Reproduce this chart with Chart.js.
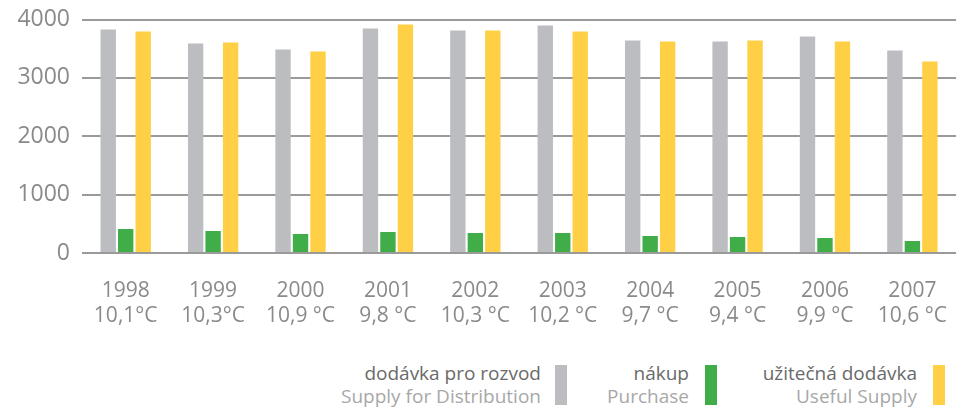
<!DOCTYPE html>
<html><head><meta charset="utf-8">
<script src="https://cdn.jsdelivr.net/npm/chart.js@4"></script>
<style>
html,body{margin:0;padding:0;background:#fff;overflow:hidden;width:958px;height:410px;}
#wrap{position:absolute;left:0;top:-4px;width:964px;height:340px;}
.leg{position:absolute;top:362px;font-family:"Open Sans",Lato,sans-serif;font-size:19px;line-height:23px;text-align:right;}
.leg .cz{color:#6a6a6a;}
.leg .en{color:#a8a8a8;}
.box{position:absolute;top:365px;width:12px;height:40px;}
</style></head>
<body>
<div id="wrap"><canvas id="c" width="964" height="340"></canvas></div>
<div class="leg" style="right:417px"><div class="cz">dodávka pro rozvod</div><div class="en">Supply for Distribution</div></div>
<div class="box" style="left:555px;background:#bcbdc0"></div>
<div class="leg" style="right:269px"><div class="cz">nákup</div><div class="en">Purchase</div></div>
<div class="box" style="left:705px;background:#41ad49"></div>
<div class="leg" style="right:41px"><div class="cz">užitečná dodávka</div><div class="en">Useful Supply</div></div>
<div class="box" style="left:933px;background:#ffd045"></div>
<script>
const years = ["1998","1999","2000","2001","2002","2003","2004","2005","2006","2007"];
const temps = ["10,1°C","10,3°C","10,9 °C","9,8 °C","10,3 °C","10,2 °C","9,7 °C","9,4 °C","9,9 °C","10,6 °C"];
const supplyForDistribution = [3829,3590,3487,3846,3812,3897,3641,3624,3709,3470];
const purchase = [410,376,325,359,342,342,290,273,256,205];
const usefulSupply = [3795,3607,3453,3915,3812,3795,3624,3641,3624,3282];
const yTicks = [0,1000,2000,3000,4000];

const labels = years.map((y,i)=>[y,temps[i]]);
const FONT = '"Open Sans", Lato, sans-serif';
new Chart(document.getElementById('c'),{
  type:'bar',
  data:{labels:labels,datasets:[
    {label:'dodávka pro rozvod',data:supplyForDistribution,backgroundColor:'#bcbdc0'},
    {label:'nákup',data:purchase,backgroundColor:'#41ad49'},
    {label:'užitečná dodávka',data:usefulSupply,backgroundColor:'#ffd045'}
  ]},
  options:{
    responsive:false,animation:false,
    datasets:{bar:{categoryPercentage:0.6,barPercentage:0.88}},
    layout:{padding:{top:0,right:1,left:0,bottom:0}},
    plugins:{legend:{display:false},tooltip:{enabled:false}},
    scales:{
      x:{grid:{display:false},border:{display:false},
        ticks:{color:'#8a8a8a',font:{family:FONT,size:21},padding:17,maxRotation:0,autoSkip:false},
        afterFit:(s)=>{s.height=83;}},
      y:{min:0,max:4000,
        afterBuildTicks:(s)=>{s.ticks=yTicks.map(v=>({value:v}));},
        grid:{color:'#9a9a9a',lineWidth:2,drawTicks:false},border:{display:false},
        ticks:{color:'#8a8a8a',font:{family:FONT,size:23,lineHeight:1},padding:12,callback:(v)=>String(v)},
        afterFit:(s)=>{s.width=82;}}
    }
  }
});
</script>
</body></html>
